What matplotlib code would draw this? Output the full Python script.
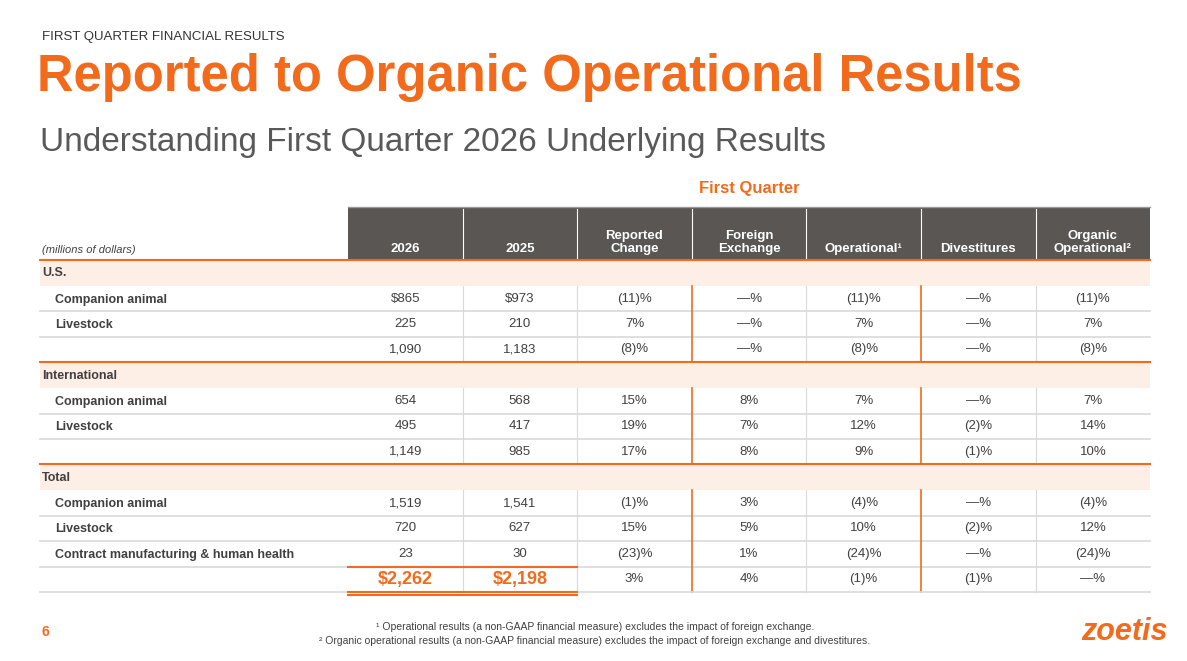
import matplotlib.pyplot as plt
from matplotlib.patches import Rectangle

plt.rcParams['font.family'] = ['Liberation Sans', 'DejaVu Sans']

ORANGE = '#F26B1D'
DARK = '#595654'
PEACH = '#FDEEE6'
GREY = '#D9D9D9'
TXT = '#404040'

headers = ['2026', '2025', 'Reported\nChange', 'Foreign\nExchange', 'Operational¹',
           'Divestitures', 'Organic\nOperational²']
sections = ['U.S.', 'International', 'Total']
row_labels = [
    ['Companion animal', 'Livestock', ''],
    ['Companion animal', 'Livestock', ''],
    ['Companion animal', 'Livestock', 'Contract manufacturing & human health', ''],
]
row_values = [
    [['$865', '$973', '(11)%', '—%', '(11)%', '—%', '(11)%'],
     ['225', '210', '7%', '—%', '7%', '—%', '7%'],
     ['1,090', '1,183', '(8)%', '—%', '(8)%', '—%', '(8)%']],
    [['654', '568', '15%', '8%', '7%', '—%', '7%'],
     ['495', '417', '19%', '7%', '12%', '(2)%', '14%'],
     ['1,149', '985', '17%', '8%', '9%', '(1)%', '10%']],
    [['1,519', '1,541', '(1)%', '3%', '(4)%', '—%', '(4)%'],
     ['720', '627', '15%', '5%', '10%', '(2)%', '12%'],
     ['23', '30', '(23)%', '1%', '(24)%', '—%', '(24)%'],
     ['$2,262', '$2,198', '3%', '4%', '(1)%', '(1)%', '—%']],
]

fig = plt.figure(figsize=(11.87, 6.61), dpi=100)
ax = fig.add_axes([0, 0, 1, 1])
ax.set_xlim(0, 1187)
ax.set_ylim(661, 0)
ax.axis('off')

ax.text(42, 37, 'FIRST QUARTER FINANCIAL RESULTS', fontsize=9.5, color='#333333', va='center')
ax.text(37, 78, 'Reported to Organic Operational Results', fontsize=36.5, fontweight='bold',
        color=ORANGE, va='center')
ax.text(40, 143, 'Understanding First Quarter 2026 Underlying Results', fontsize=24,
        color='#595959', va='center')
ax.text(749, 188, 'First Quarter', fontsize=12, fontweight='bold', color=ORANGE,
        ha='center', va='center')

left, x0, cw = 40, 348, 114.6
right = x0 + cw * 7
xs = [x0 + cw * i for i in range(8)]

# header
ax.add_patch(Rectangle((x0, 207), right - x0, 52, color=DARK, lw=0))
ax.plot([x0, right], [207, 207], color='#999999', lw=1)
for x in xs[1:-1]:
    ax.plot([x, x], [209, 258], color='white', lw=0.8)
for i, h in enumerate(headers):
    ax.text(xs[i] + cw / 2, 255, h, color='white', fontsize=9.5,
            fontweight='bold', ha='center', va='bottom', linespacing=1.1)
ax.text(42, 250, '(millions of dollars)', fontsize=8, style='italic', color=TXT, va='center')
ax.plot([left, right], [260, 260], color=ORANGE, lw=1.5)

y = 261
rh = 25.4
for s, sec in enumerate(sections):
    ax.add_patch(Rectangle((left, y), right - left, 25, color=PEACH, lw=0))
    ax.text(42, y + 12.5, sec, fontsize=9, fontweight='bold', color=TXT, va='center')
    y += 25
    top = y
    n = len(row_labels[s])
    for r in range(n):
        yc = y + rh / 2
        ax.text(55, yc + 1, row_labels[s][r], fontsize=9, fontweight='bold', color=TXT, va='center')
        last_total = (s == 2 and r == n - 1)
        for c, v in enumerate(row_values[s][r]):
            big = last_total and c < 2
            ax.text(xs[c] + cw / 2, yc, v, fontsize=13 if big else 9.5,
                    fontweight='bold' if big else 'normal',
                    color=ORANGE if big else TXT, ha='center', va='center')
        y += rh
        if r < n - 1:
            ax.plot([left, right], [y, y], color=GREY, lw=1.2)
    for x in xs[1:-1]:
        col = ORANGE if x in (xs[3], xs[5]) else GREY
        ax.plot([x, x], [top, y], color=col, lw=1.2 if col == ORANGE else 0.8)
    if s < 2:
        ax.plot([left, right], [y, y], color=ORANGE, lw=1.5)
    else:
        ax.plot([left, right], [y, y], color=GREY, lw=1.2)
        ax.plot([xs[0], xs[2]], [y - rh, y - rh], color=ORANGE, lw=1.5)
        ax.plot([xs[0], xs[2]], [y, y], color=ORANGE, lw=1.5)
        ax.plot([xs[0], xs[2]], [y + 3, y + 3], color=ORANGE, lw=1.5)
    y += 1

ax.text(42, 632, '6', fontsize=10, fontweight='bold', color=ORANGE, va='center')
ax.text(595, 627, '¹ Operational results (a non-GAAP financial measure) excludes the impact of foreign exchange.',
        fontsize=7.5, color=TXT, ha='center', va='center')
ax.text(595, 641, '² Organic operational results (a non-GAAP financial measure) excludes the impact of foreign exchange and divestitures.',
        fontsize=7.5, color=TXT, ha='center', va='center')
ax.text(1168, 632, 'zoetis', fontsize=22, fontweight='bold', style='italic', color=ORANGE,
        ha='right', va='center')

fig.savefig('out.png', dpi=100)
